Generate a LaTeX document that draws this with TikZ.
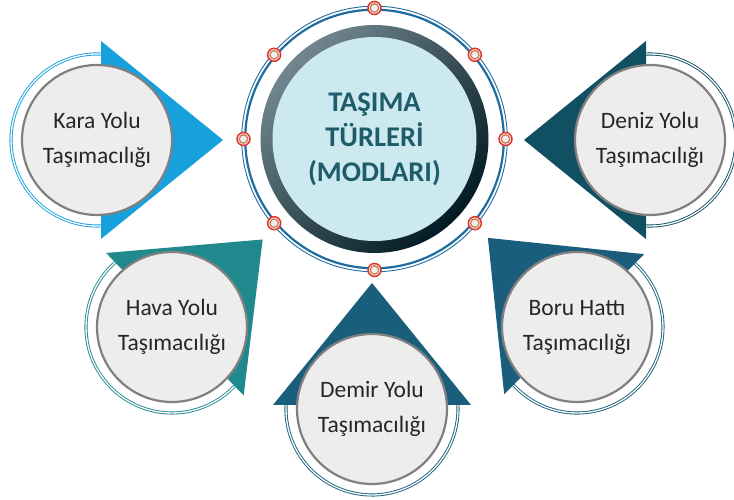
\documentclass[tikz,border=0pt]{standalone}
\usepackage{fontspec}
\setmainfont{Carlito}
\usetikzlibrary{backgrounds,calc}
\definecolor{karac}{HTML}{17A1DC}
\definecolor{denizc}{HTML}{114F62}
\definecolor{havac}{HTML}{20898E}
\definecolor{demirc}{HTML}{195E7B}
\definecolor{boruc}{HTML}{1B5D7C}
\definecolor{hubring}{HTML}{1E6CA0}
\definecolor{hubfill}{HTML}{CDE9F0}
\definecolor{hubtext}{HTML}{1E5C69}
\definecolor{hubdark}{HTML}{021A23}
\definecolor{hubmid}{HTML}{0B3A4A}
\definecolor{hublight}{HTML}{71868F}
\definecolor{modefill}{HTML}{EDEDED}
\definecolor{modeedge}{HTML}{808080}
\definecolor{modetext}{HTML}{262626}
\definecolor{pinred}{HTML}{E5332C}
\definecolor{pinorange}{HTML}{D0774E}
\definecolor{pincore}{HTML}{EEEEEE}
\tikzset{
  mode/.style={circle, draw=modeedge, fill=modefill, line width=2.2pt, minimum size=150pt,
    inner sep=0pt, align=center, text=modetext, font=\fontsize{23.5}{35}\selectfont},
  hub/.style={circle, fill=hubfill, minimum size=204pt, inner sep=0pt, align=center,
    text=hubtext, font=\fontsize{28.5}{35}\selectfont\bfseries},
  pin/.style={circle, draw=pinred, fill=pincore, line width=1.5pt, minimum size=13pt, inner sep=0pt},
  halo/.style={double=white, double distance=1.3pt, line width=0.9pt},
}
% pointer triangle and half ring behind a mode circle: node, angle, colour
\newcommand\pointer[3]{%
  \begin{scope}[shift={(#1.center)}, rotate=#2]
    \draw[halo, draw=#3] (80:86) arc[start angle=80, end angle=280, radius=86];
    \fill[#3] (4,-99) -- (126,0) -- (4,99) -- cycle;
  \end{scope}}

\begin{document}
\begin{tikzpicture}[x=1pt, y=1pt]
\useasboundingbox (0,0) rectangle (734,500);

\node[hub] (modes) at (374.5,361) {TAŞIMA\\TÜRLERİ\\(MODLARI)};
\node[mode] (kara) at (97,360) {Kara Yolu\\Taşımacılığı};
\node[mode] (deniz) at (650,360) {Deniz Yolu\\Taşımacılığı};
\node[mode] (hava) at (172,173) {Hava Yolu\\Taşımacılığı};
\node[mode] (demir) at (372,91) {Demir Yolu\\Taşımacılığı};
\node[mode] (boru) at (577,173) {Boru Hattı\\Taşımacılığı};

\begin{scope}[on background layer]
  \pointer{kara}{0}{karac}
  \pointer{deniz}{180}{denizc}
  \pointer{hava}{44}{havac}
  \pointer{demir}{90}{demirc}
  \pointer{boru}{135}{boruc}
  \draw[hubring, line width=2.2pt] (modes.center) circle (129.3);
  \draw[hubring, line width=0.9pt] (modes.center) circle (132.8);
  \shade[top color=hublight, middle color=hubmid, bottom color=hubdark, shading angle=45] (modes.center) circle (114);
\end{scope}

\foreach \a in {0,40,90,140,180,220,270,320} {
  \node[pin] (pin\a) at ($(modes.center)+(\a:131)$) {};
  \draw[pinorange, line width=1.2pt] (pin\a.center) circle (4.2);
}
\end{tikzpicture}
\end{document}
